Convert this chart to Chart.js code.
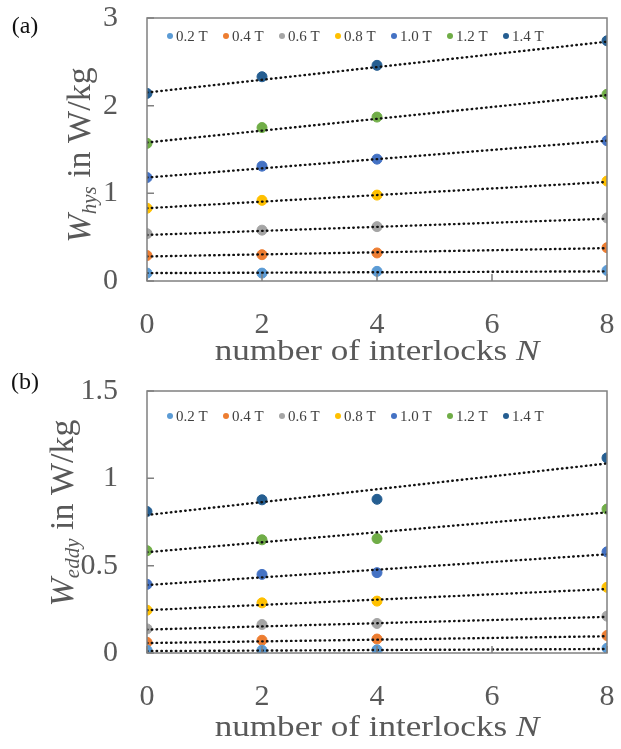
<!DOCTYPE html>
<html>
<head>
<meta charset="utf-8">
<script src="https://cdn.jsdelivr.net/npm/chart.js@4"></script>
<style>
  body { margin: 0; background: #fff; }
  .panel { position: absolute; left: 0; width: 621px; }
</style>
</head>
<body>
<div class="panel" style="top:0;height:372px"><canvas id="hysChart"></canvas></div>
<div class="panel" style="top:372px;height:377px"><canvas id="eddyChart"></canvas></div>
<script>
// number of interlocks N
const interlocks = [0, 2, 4, 8];
const trendN = [0, 8];
const fluxLabels = ['0.2 T', '0.4 T', '0.6 T', '0.8 T', '1.0 T', '1.2 T', '1.4 T'];
const fluxColors = ['#5B9BD5', '#ED7D31', '#A5A5A5', '#FFC000', '#4472C4', '#70AD47', '#255E91'];

// (a) hysteresis loss W_hys in W/kg
const hys02 = [0.09, 0.09, 0.11, 0.12];
const hys04 = [0.29, 0.30, 0.32, 0.38];
const hys06 = [0.54, 0.58, 0.62, 0.72];
const hys08 = [0.83, 0.92, 0.98, 1.14];
const hys10 = [1.18, 1.31, 1.39, 1.60];
const hys12 = [1.57, 1.75, 1.87, 2.13];
const hys14 = [2.14, 2.33, 2.46, 2.74];
// (a) dotted trend lines, value at N=0 and N=8
const hysTrend02 = [0.09, 0.11];
const hysTrend04 = [0.28, 0.375];
const hysTrend06 = [0.525, 0.71];
const hysTrend08 = [0.83, 1.13];
const hysTrend10 = [1.18, 1.60];
const hysTrend12 = [1.58, 2.12];
const hysTrend14 = [2.15, 2.73];

// (b) eddy current loss W_eddy in W/kg
const eddy02 = [0.016, 0.016, 0.018, 0.027];
const eddy04 = [0.061, 0.073, 0.080, 0.100];
const eddy06 = [0.138, 0.163, 0.169, 0.211];
const eddy08 = [0.245, 0.287, 0.297, 0.376];
const eddy10 = [0.393, 0.450, 0.460, 0.579];
const eddy12 = [0.586, 0.648, 0.655, 0.824];
const eddy14 = [0.810, 0.877, 0.880, 1.117];
// (b) dotted trend lines
const eddyTrend02 = [0.011, 0.023];
const eddyTrend04 = [0.057, 0.096];
const eddyTrend06 = [0.134, 0.207];
const eddyTrend08 = [0.245, 0.366];
const eddyTrend10 = [0.389, 0.565];
const eddyTrend12 = [0.577, 0.805];
const eddyTrend14 = [0.790, 1.085];

const serif = "'Liberation Serif', 'Times New Roman', serif";
const textGray = '#595959';

function toPoints(xs, ys) {
    return xs.map((x, i) => ({ x: x, y: ys[i] }));
}

function buildDatasets(series, trends) {
    const marks = series.map((ys, i) => ({
        label: fluxLabels[i],
        data: toPoints(interlocks, ys),
        backgroundColor: fluxColors[i],
        borderColor: fluxColors[i],
        pointRadius: 5,
        pointHoverRadius: 5,
        order: 2
    }));
    const lines = trends.map(ys => ({
        label: 'trend',
        data: toPoints(trendN, ys),
        showLine: true,
        borderColor: '#111',
        borderWidth: 2.4,
        borderDash: [0.5, 4.3],
        borderCapStyle: 'round',
        pointRadius: 0,
        order: 1
    }));
    return marks.concat(lines);
}

// 外框 + 向内的刻度线 + 图例 + 轴标题
const framePlugin = {
    id: 'frame',
    afterDatasetsDraw(chart, args, opts) {
        const { ctx, chartArea: a } = chart;
        ctx.save();
        ctx.strokeStyle = '#808080';
        ctx.lineWidth = 1.5;
        ctx.strokeRect(a.left, a.top, a.right - a.left, a.bottom - a.top);
        ctx.beginPath();
        chart.scales.x.ticks.forEach(t => {
            const px = chart.scales.x.getPixelForValue(t.value);
            ctx.moveTo(px, a.bottom);
            ctx.lineTo(px, a.bottom - 7);
        });
        chart.scales.y.ticks.forEach(t => {
            const py = chart.scales.y.getPixelForValue(t.value);
            ctx.moveTo(a.left, py);
            ctx.lineTo(a.left + 7, py);
        });
        ctx.stroke();

        // legend row inside the plot
        ctx.font = '15px ' + serif;
        ctx.textBaseline = 'middle';
        ctx.textAlign = 'left';
        chart.data.datasets.slice(0, 7).forEach((ds, i) => {
            const lx = 170 + i * 56;
            ctx.fillStyle = ds.backgroundColor;
            ctx.beginPath();
            ctx.arc(lx, opts.legendY, 3, 0, Math.PI * 2);
            ctx.fill();
            ctx.fillStyle = '#404040';
            ctx.fillText(ds.label, lx + 6, opts.legendY + 1);
        });
        ctx.restore();
    },
    afterDraw(chart, args, opts) {
        const { ctx, chartArea: a } = chart;
        ctx.save();
        // panel label
        ctx.fillStyle = '#111';
        ctx.font = '24px ' + serif;
        ctx.textAlign = 'center';
        ctx.textBaseline = 'middle';
        ctx.fillText(opts.panel, 25, opts.panelY);

        // x title: number of interlocks N (slightly widened like the original)
        ctx.fillStyle = textGray;
        ctx.textBaseline = 'alphabetic';
        ctx.textAlign = 'left';
        const xParts = [
            { t: 'number of interlocks ', f: '30px ' + serif },
            { t: 'N', f: 'italic 30px ' + serif }
        ];
        let w = 0;
        xParts.forEach(p => { ctx.font = p.f; w += ctx.measureText(p.t).width; });
        ctx.save();
        ctx.translate((a.left + a.right) / 2, opts.xTitleY);
        ctx.scale(1.17, 1);
        let x = -w / 2;
        xParts.forEach(p => {
            ctx.font = p.f;
            ctx.fillText(p.t, x, 0);
            x += ctx.measureText(p.t).width;
        });
        ctx.restore();

        // y title: W_sub in W/kg, rotated
        const yParts = [
            { t: 'W', f: 'italic 34px ' + serif, dy: 0 },
            { t: opts.sub, f: 'italic 21px ' + serif, dy: 6 },
            { t: ' in W/kg', f: '34px ' + serif, dy: 0 }
        ];
        ctx.translate(opts.yTitleX, opts.yTitleY);
        ctx.rotate(-Math.PI / 2);
        w = 0;
        yParts.forEach(p => { ctx.font = p.f; w += ctx.measureText(p.t).width; });
        x = -w / 2;
        yParts.forEach(p => {
            ctx.font = p.f;
            ctx.fillText(p.t, x, 11 + p.dy);
            x += ctx.measureText(p.t).width;
        });
        ctx.restore();
    }
};

function makeChart(id, series, trends, yMax, yStep, xAxisHeight, panel) {
    return new Chart(document.getElementById(id), {
        type: 'scatter',
        data: { datasets: buildDatasets(series, trends) },
        options: {
            responsive: true,
            maintainAspectRatio: false,
            animation: false,
            layout: { padding: { top: panel.top, right: 14, left: 0, bottom: 0 } },
            plugins: {
                legend: { display: false },
                tooltip: { enabled: false },
                frame: panel
            },
            scales: {
                x: {
                    type: 'linear',
                    min: 0,
                    max: 8,
                    ticks: { stepSize: 2, padding: 26, color: textGray, font: { family: serif, size: 30 } },
                    grid: { display: false, drawTicks: false },
                    border: { display: false },
                    afterFit: s => {
                        s.height = xAxisHeight;
                        s.paddingLeft = 0;
                        s.paddingRight = 0;
                    }
                },
                y: {
                    min: 0,
                    max: yMax,
                    ticks: {
                        stepSize: yStep,
                        padding: 29,
                        color: textGray,
                        font: { family: serif, size: 30 },
                        callback: v => String(v)
                    },
                    grid: { display: false, drawTicks: false },
                    border: { display: false },
                    afterFit: s => {
                        s.width = 147;
                        s.paddingTop = 0;
                        s.paddingBottom = 0;
                    }
                }
            }
        },
        plugins: [framePlugin]
    });
}

window.onload = function () {
    makeChart('hysChart',
        [hys02, hys04, hys06, hys08, hys10, hys12, hys14],
        [hysTrend02, hysTrend04, hysTrend06, hysTrend08, hysTrend10, hysTrend12, hysTrend14],
        3, 1, 91,
        { top: 18, panel: '(a)', panelY: 27, legendY: 36, xTitleY: 360, yTitleX: 79, yTitleY: 155, sub: 'hys' });
    makeChart('eddyChart',
        [eddy02, eddy04, eddy06, eddy08, eddy10, eddy12, eddy14],
        [eddyTrend02, eddyTrend04, eddyTrend06, eddyTrend08, eddyTrend10, eddyTrend12, eddyTrend14],
        1.5, 0.5, 96,
        { top: 19, panel: '(b)', panelY: 11, legendY: 44, xTitleY: 364, yTitleX: 62, yTitleY: 141, sub: 'eddy' });
};
</script>
</body>
</html>
